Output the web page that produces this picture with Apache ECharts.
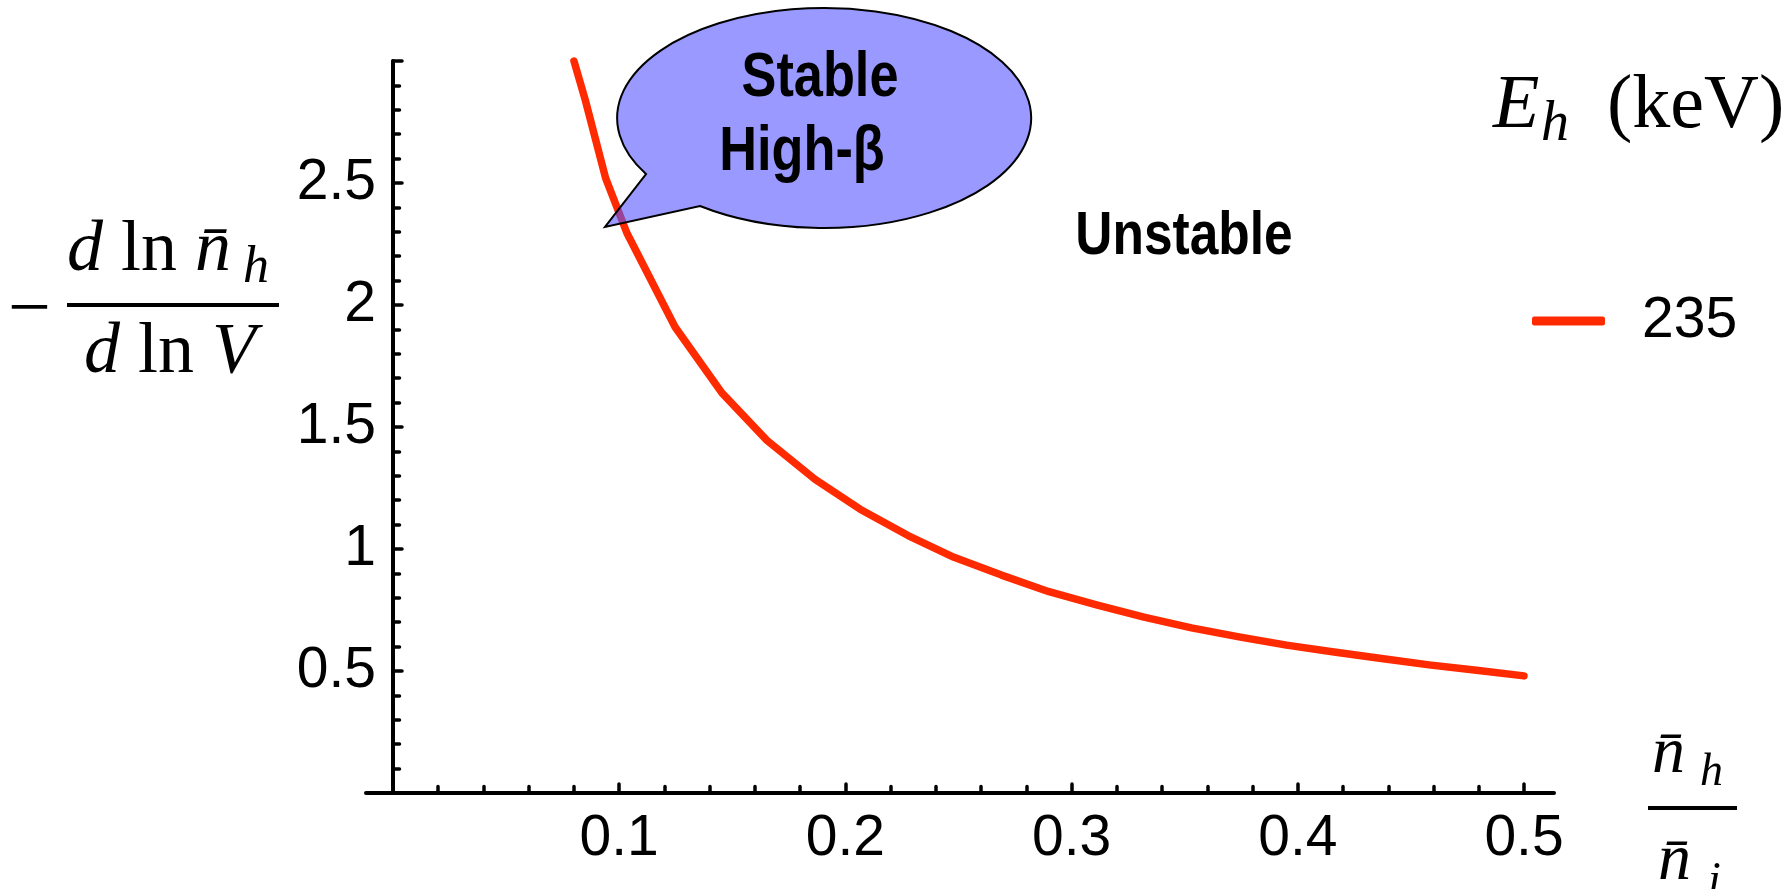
<!DOCTYPE html>
<html>
<head>
<meta charset="utf-8">
<script src="https://cdn.jsdelivr.net/npm/echarts@6/dist/echarts.min.js"></script>
<style>
  html, body { margin: 0; padding: 0; background: #ffffff; }
  #chart { width: 1789px; height: 889px; }
</style>
</head>
<body>
<div id="chart"></div>
<script>
// ---- data ----
const xValues = [0.080, 0.085, 0.094, 0.1034, 0.1247, 0.1454, 0.1653, 0.1866, 0.2065, 0.2277, 0.248, 0.269, 0.290, 0.311, 0.332, 0.353, 0.374, 0.395, 0.416, 0.437, 0.458, 0.479, 0.500];
const yValues = [3.00, 2.84, 2.52, 2.295, 1.91, 1.64, 1.445, 1.285, 1.163, 1.055, 0.966, 0.893, 0.825, 0.771, 0.721, 0.677, 0.640, 0.606, 0.578, 0.551, 0.525, 0.503, 0.480];
const seriesName = '235';
const xTickLabels = [0.1, 0.2, 0.3, 0.4, 0.5];
const yTickLabels = [0.5, 1, 1.5, 2, 2.5];

const RED = '#ff2a00';
const SANS = 'Liberation Sans, Arial, Helvetica, sans-serif';
const SERIF = 'Liberation Serif, Times New Roman, serif';

// speech-bubble outline (annotation shape)
const BubbleShape = echarts.graphic.extendPath('M 646 174 A 207 110 0 1 1 700 206 L 605 227 Z', {});
echarts.graphic.registerShape('speechBubble', BubbleShape);

const chart = echarts.init(document.getElementById('chart'), null, { renderer: 'canvas' });

function txt(text, x, y, opt) {
  return {
    type: 'text', x: x, y: y, z: 120,
    scaleX: opt.scaleX || 1,
    style: {
      text: text,
      fill: '#000',
      fontSize: opt.size,
      fontFamily: opt.family || SERIF,
      fontStyle: opt.italic ? 'italic' : 'normal',
      fontWeight: opt.bold ? 'bold' : 'normal',
      align: opt.align || 'left', textAlign: opt.align || 'left',
      verticalAlign: 'middle', textVerticalAlign: 'middle'
    }
  };
}
function bar(x1, x2, y) {
  return { type: 'line', z: 120, shape: { x1: x1, y1: y, x2: x2, y2: y }, style: { stroke: '#000', lineWidth: 4 } };
}

const axisLineStyle = { color: '#000', width: 4, cap: 'round' };
const tickStyle = { color: '#000', width: 3.5, cap: 'round' };

const option = {
  backgroundColor: '#ffffff',
  animation: false,
  grid: [
    { left: 393, right: 265, top: 61, bottom: 96, containLabel: false },
    { left: 366, right: 235, top: 61, bottom: 96, containLabel: false }
  ],
  xAxis: [
    {
      type: 'value', gridIndex: 0, min: 0, max: 0.5, interval: 0.1,
      axisLine: { show: true, onZero: false, lineStyle: axisLineStyle },
      axisTick: { show: true, inside: true, length: 9, lineStyle: tickStyle },
      minorTick: { show: true, splitNumber: 5, length: 6.5, lineStyle: tickStyle },
      splitLine: { show: false }, minorSplitLine: { show: false },
      axisLabel: {
        show: true, margin: 18, fontSize: 57, fontFamily: SANS, color: '#000',
        formatter: v => xTickLabels.some(t => Math.abs(t - v) < 1e-9) ? String(v) : ''
      }
    },
    {
      type: 'value', gridIndex: 1, min: 0, max: 1,
      axisLine: { show: true, onZero: false, lineStyle: axisLineStyle },
      axisTick: { show: false }, axisLabel: { show: false }, splitLine: { show: false }
    }
  ],
  yAxis: [
    {
      type: 'value', gridIndex: 0, min: 0, max: 3, interval: 0.5,
      axisLine: { show: true, onZero: false, lineStyle: axisLineStyle },
      axisTick: { show: true, inside: true, length: 9, lineStyle: tickStyle },
      minorTick: { show: true, splitNumber: 5, length: 6.5, lineStyle: tickStyle },
      splitLine: { show: false }, minorSplitLine: { show: false },
      axisLabel: {
        show: true, margin: 17, fontSize: 57, fontFamily: SANS, color: '#000',
        formatter: v => yTickLabels.some(t => Math.abs(t - v) < 1e-9) ? String(v) : ''
      }
    },
    {
      type: 'value', gridIndex: 1, min: 0, max: 1, show: false
    }
  ],
  legend: {
    show: true, data: [seriesName], left: 1527, top: 286,
    icon: 'roundRect', itemWidth: 73, itemHeight: 9,
    textStyle: { fontSize: 57, fontFamily: SANS, color: '#000', padding: [0, 0, 0, 32], lineHeight: 60 }
  },
  series: [
    {
      name: seriesName, type: 'line', xAxisIndex: 0, yAxisIndex: 0,
      data: xValues.map((x, i) => [x, yValues[i]]),
      showSymbol: false, symbol: 'none', smooth: false, clip: false,
      lineStyle: { color: RED, width: 7.5, cap: 'round', join: 'round' },
      itemStyle: { color: RED },
      z: 10
    }
  ],
  graphic: [
    // y-axis title: - d ln n̄_h / d ln V
    txt('\u2212', 8, 312, { size: 76 }),
    {
      type: 'text', x: 67, y: 251, z: 120,
      style: {
        text: '{i|d} {r|ln} {i|n\u0304}',
        fill: '#000', fontSize: 72, fontFamily: SERIF,
        align: 'left', verticalAlign: 'middle',
        rich: {
          i: { fontSize: 72, fontFamily: SERIF, fontStyle: 'italic' },
          r: { fontSize: 72, fontFamily: SERIF }
        }
      }
    },
    txt('h', 243, 268, { size: 52, italic: true }),
    bar(67, 279, 305),
    {
      type: 'text', x: 84, y: 353, z: 120,
      style: {
        text: '{i|d} {r|ln} {i|V}',
        fill: '#000', fontSize: 72, fontFamily: SERIF,
        align: 'left', verticalAlign: 'middle',
        rich: {
          i: { fontSize: 72, fontFamily: SERIF, fontStyle: 'italic' },
          r: { fontSize: 72, fontFamily: SERIF }
        }
      }
    },
    // x-axis title: n̄_h / n̄_i
    txt('n\u0304', 1652, 755, { size: 66, italic: true }),
    txt('h', 1700, 773, { size: 46, italic: true }),
    bar(1648, 1737, 808),
    txt('n\u0304', 1658, 862, { size: 66, italic: true }),
    txt('i', 1708, 882, { size: 46, italic: true }),
    // legend title: E_h (keV)
    txt('E', 1493, 107, { size: 76, italic: true }),
    txt('h', 1541, 125, { size: 56, italic: true }),
    txt('(keV)', 1607, 107, { size: 76 }),
    // region label
    txt('Unstable', 1184, 237, { size: 62, family: SANS, bold: true, align: 'center', scaleX: 0.83 }),
    // speech bubble
    {
      type: 'speechBubble', z: 110,
      style: { fill: 'rgba(85,85,255,0.6)', stroke: '#000', lineWidth: 2 }
    },
    txt('Stable', 820, 79, { size: 63, family: SANS, bold: true, align: 'center', scaleX: 0.83 }),
    txt('High-\u03b2', 802, 153, { size: 63, family: SANS, bold: true, align: 'center', scaleX: 0.83 })
  ]
};

chart.setOption(option);
</script>
</body>
</html>
